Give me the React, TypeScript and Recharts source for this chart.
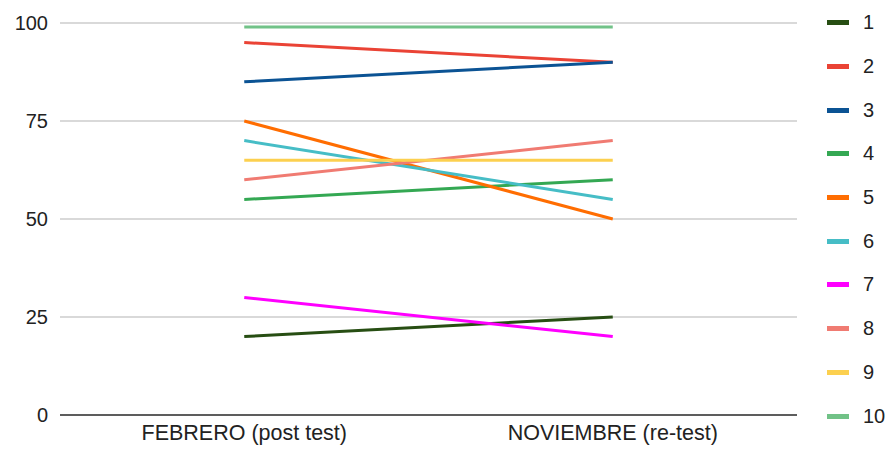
import React from 'react';
import { LineChart, Line, XAxis, YAxis, CartesianGrid, Legend } from 'recharts';

const periods = ['FEBRERO (post test)', 'NOVIEMBRE (re-test)'];
const seriesNames = ['1', '2', '3', '4', '5', '6', '7', '8', '9', '10'];
const seriesColors = ['#274e13', '#ea4335', '#0b5394', '#34a853', '#ff6d01', '#46bdc6', '#ff00ff', '#f07b72', '#fcd04f', '#71c287'];
const febreroValues = [20, 95, 85, 55, 75, 70, 30, 60, 65, 99];
const noviembreValues = [25, 90, 90, 60, 50, 55, 20, 70, 65, 99];
const yTicks = [0, 25, 50, 75, 100];

const FONT = 'Liberation Sans, Arial, sans-serif';

const data = periods.map((p, i) => {
    const row: any = { period: p };
    const vals = i === 0 ? febreroValues : noviembreValues;
    seriesNames.forEach((name, j) => { row[name] = vals[j]; });
    return row;
});

// leyenda vertical a la derecha, en el orden de las series
const SideLegend = () => (
    <div style={{ fontFamily: FONT, fontSize: 20, color: '#222' }}>
        {seriesNames.map((name, idx) => (
            <div key={name} style={{ display: 'flex', alignItems: 'center', height: 43.7 }}>
                <span style={{ display: 'inline-block', width: 22, height: 5, backgroundColor: seriesColors[idx], marginRight: 14 }}></span>
                <span>{name}</span>
            </div>
        ))}
    </div>
);

export default function App() {
    return (
        <div style={{ position: 'absolute', left: 0, top: 0, background: '#fff' }}>
            <LineChart width={891} height={450} data={data} margin={{ top: 23, right: 30, left: 0, bottom: 0 }}>
                <CartesianGrid vertical={false} stroke="#cccccc" strokeWidth={1.5} />
                <XAxis
                    dataKey="period"
                    scale="band"
                    height={35}
                    axisLine={{ stroke: '#333333', strokeWidth: 1.5 }}
                    tickLine={false}
                    tick={{ fill: '#222', fontSize: 21.5, fontFamily: FONT }}
                    dy={2}
                />
                <YAxis
                    width={60}
                    domain={[0, 100]}
                    ticks={yTicks}
                    axisLine={false}
                    tickLine={false}
                    tick={{ fill: '#222', fontSize: 20, fontFamily: FONT }}
                    dx={-4}
                />
                <Legend
                    layout="vertical"
                    align="right"
                    verticalAlign="top"
                    content={<SideLegend />}
                    wrapperStyle={{ position: 'absolute', left: 827, top: 1, width: 64 }}
                />
                {seriesNames.map((name, j) => (
                    <Line
                        key={name}
                        type="linear"
                        dataKey={name}
                        stroke={seriesColors[j]}
                        strokeWidth={3}
                        dot={false}
                        activeDot={false}
                        isAnimationActive={false}
                    />
                ))}
            </LineChart>
        </div>
    );
}
